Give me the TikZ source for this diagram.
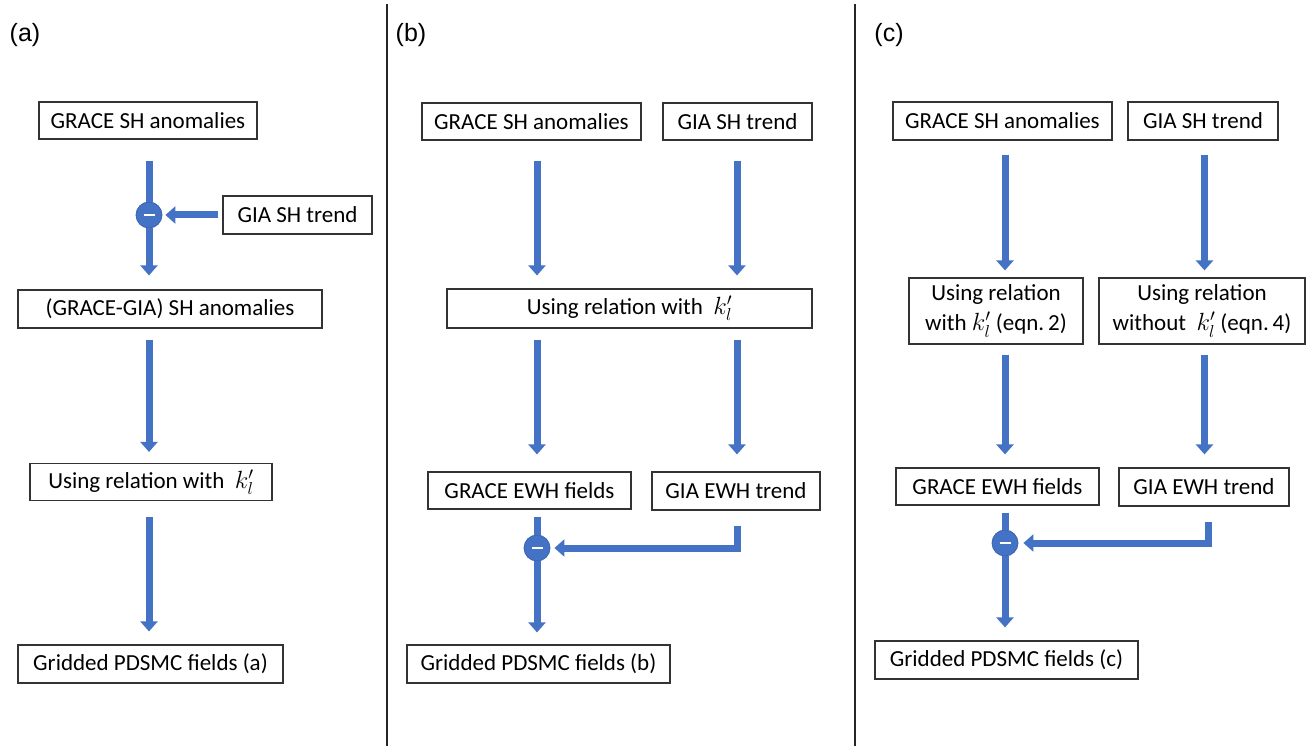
\documentclass[tikz,border=0pt]{standalone}
\usepackage{fontspec}
\setmainfont{Carlito}
\newfontfamily\labelfont{Liberation Sans}
\usetikzlibrary{arrows.meta,calc}
\definecolor{ablue}{HTML}{4472C4}
\definecolor{aedge}{HTML}{3A62AE}
\begin{document}
\begin{tikzpicture}[x=1pt,y=-1pt,
  box/.style={draw=black!80, line width=1.2pt, fill=white, inner sep=0pt,
    font=\fontsize{23}{28}\selectfont, align=center},
  twoline/.style={font=\fontsize{23}{30}\selectfont},
  barrow/.style={draw=ablue, line width=7pt, line join=miter,
    -{Triangle[width=17pt,length=10pt]}},
  bline/.style={draw=ablue, line width=7pt},
  minus/.style={circle, fill=ablue, draw=aedge, line width=0.8pt,
    minimum size=26pt, inner sep=0pt},
  plabel/.style={font=\labelfont\fontsize{25}{30}\selectfont, inner sep=0pt},
  divider/.style={draw=black!85, line width=2pt}
]
\useasboundingbox (0,0) rectangle (1310,746);

% dividers
\draw[divider] (387,4) -- (387,746);
\draw[divider] (855,4) -- (855,746);

% panel labels
\node[plabel] (la) at (25,35) {(a)};
\node[plabel] (lb) at (411,35) {(b)};
\node[plabel] (lc) at (889,35) {(c)};

% ---------------- panel (a)
\node[box, minimum width=218pt, minimum height=37pt] (a1) at (148,120.5) {GRACE SH anomalies};
\node[box, minimum width=149pt, minimum height=38pt] (a2) at (297.5,215) {GIA SH trend};
\node[box, minimum width=304pt, minimum height=38pt] (a3) at (170,309) {(GRACE-GIA) SH anomalies};
\node[box, minimum width=242pt, minimum height=37pt] (a4) at (151,482) {Using relation with\ \ $k_l'$};
\node[box, minimum width=265pt, minimum height=38pt] (a5) at (150.5,664) {Gridded PDSMC fields (a)};
\node[minus] (ma) at (149,215) {\textcolor{white}{\rule{11pt}{2.5pt}}};

\draw[bline] ($(a1.south -| ma)+(0,21)$) -- (ma.north);
\draw[barrow] (ma.south) -- ($(a3.north -| ma)+(0,-14)$);
\draw[barrow] ($(a2.west)+(-4,0)$) -- ($(ma.east)+(3,0)$);
\draw[barrow] ($(a3.south -| ma)+(0,11)$) -- ($(a4.north -| ma)+(0,-11)$);
\draw[barrow] ($(a4.south -| ma)+(0,16)$) -- ($(a5.north -| ma)+(0,-13)$);

% ---------------- panel (b)
\coordinate (rb) at (737,0);
\node[box, minimum width=219pt, minimum height=37pt] (b1) at (531.5,121.5) {GRACE SH anomalies};
\node[box, minimum width=149pt, minimum height=37pt] (b2) at (737.5,121.5) {GIA SH trend};
\node[box, minimum width=365pt, minimum height=39pt] (b3) at (629.5,308.5) {Using relation with\ \ $k_l'$};
\node[box, minimum width=203pt, minimum height=37pt] (b4) at (529.5,490.5) {GRACE EWH fields};
\node[box, minimum width=168pt, minimum height=38pt] (b5) at (736,491) {GIA EWH trend};
\node[box, minimum width=263pt, minimum height=38pt] (b6) at (538.5,664) {Gridded PDSMC fields (b)};
\node[minus] (mb) at (537,548) {\textcolor{white}{\rule{11pt}{2.5pt}}};

\draw[barrow] ($(b1.south -| mb)+(0,20)$) -- ($(b3.north -| mb)+(0,-13)$);
\draw[barrow] ($(b2.south -| rb)+(0,20)$) -- ($(b3.north -| rb)+(0,-13)$);
\draw[barrow] ($(b3.south -| mb)+(0,11)$) -- ($(b4.north -| mb)+(0,-17)$);
\draw[barrow] ($(b3.south -| rb)+(0,11)$) -- ($(b5.north -| rb)+(0,-17)$);
\draw[bline] ($(b4.south -| mb)+(0,7)$) -- (mb.north);
\draw[barrow] (mb.south) -- ($(b6.north -| mb)+(0,-12)$);
\draw[barrow] ($(b5.south -| rb)+(0,15)$) -- (mb -| rb) -- ($(mb.east)+(4,0)$);

% ---------------- panel (c)
\coordinate (rc) at (1204.5,0);
\coordinate (ec) at (1208,0);
\node[box, minimum width=219pt, minimum height=38pt] (c1) at (1002.5,121) {GRACE SH anomalies};
\node[box, minimum width=150pt, minimum height=38pt] (c2) at (1203,121) {GIA SH trend};
\node[box, twoline, minimum width=174pt, minimum height=66pt] (c3) at (996,311) {Using relation\\with $k_l'$ (eqn.\,2)};
\node[box, twoline, minimum width=206pt, minimum height=66pt] (c4) at (1202,311) {Using relation\\without\ \ $k_l'$ (eqn.\,4)};
\node[box, minimum width=203pt, minimum height=37pt] (c5) at (997.5,486.5) {GRACE EWH fields};
\node[box, minimum width=170pt, minimum height=38pt] (c6) at (1204,487) {GIA EWH trend};
\node[box, minimum width=263pt, minimum height=38pt] (c7) at (1006.5,660) {Gridded PDSMC fields (c)};
\node[minus] (mc) at (1005,543) {\textcolor{white}{\rule{11pt}{2.5pt}}};

\draw[barrow] ($(c1.south -| mc)+(0,14)$) -- ($(c3.north -| mc)+(0,-7)$);
\draw[barrow] ($(c2.south -| rc)+(0,14)$) -- ($(c4.north -| rc)+(0,-7)$);
\draw[barrow] ($(c3.south -| mc)+(0,10)$) -- ($(c5.north -| mc)+(0,-13)$);
\draw[barrow] ($(c4.south -| rc)+(0,10)$) -- ($(c6.north -| rc)+(0,-13)$);
\draw[bline] ($(c5.south -| mc)+(0,7)$) -- (mc.north);
\draw[barrow] (mc.south) -- ($(c7.north -| mc)+(0,-13)$);
\draw[barrow] ($(c6.south -| ec)+(0,15)$) -- (mc -| ec) -- ($(mc.east)+(5,0)$);
\end{tikzpicture}
\end{document}
